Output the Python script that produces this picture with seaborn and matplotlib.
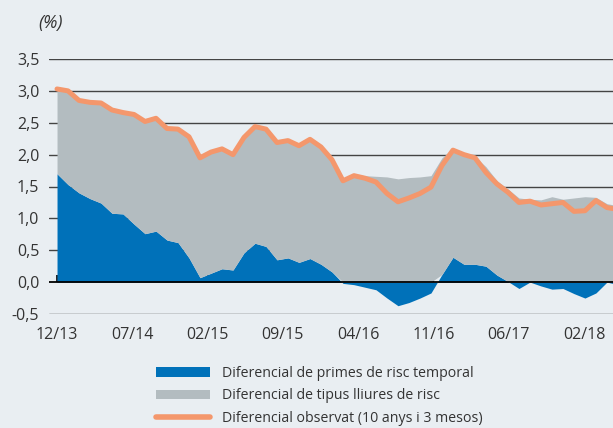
import numpy as np
import pandas as pd
import matplotlib
matplotlib.use('Agg')
import matplotlib.pyplot as plt
import seaborn as sns
from matplotlib.patches import Patch
from matplotlib.lines import Line2D

# ---------- dades (llegides del gràfic) ----------
tick_labels = ['12/13', '07/14', '02/15', '09/15', '04/16', '11/16', '06/17', '02/18']

# Diferencial de primes de risc temporal
blue = [1.70, 1.53, 1.40, 1.31, 1.24, 1.08, 1.07, 0.91, 0.76, 0.80,
        0.66, 0.62, 0.38, 0.07, 0.14, 0.21, 0.19, 0.46, 0.61, 0.56,
        0.35, 0.38, 0.31, 0.37, 0.28, 0.16, -0.02, -0.04, -0.08, -0.12,
        -0.25, -0.37, -0.32, -0.25, -0.17, 0.12, 0.39, 0.28, 0.28, 0.25,
        0.11, 0.01, -0.10, 0.00, -0.06, -0.11, -0.10, -0.18, -0.25, -0.17,
        0.00, -0.04]

# Diferencial de tipus lliures de risc
grey = [1.33, 1.47, 1.45, 1.51, 1.57, 1.62, 1.59, 1.72, 1.76, 1.77,
        1.75, 1.78, 1.90, 1.88, 1.90, 1.88, 1.81, 1.81, 1.83, 1.84,
        1.84, 1.84, 1.83, 1.87, 1.84, 1.81, 1.62, 1.69, 1.67, 1.66,
        1.65, 1.62, 1.64, 1.65, 1.67, 1.83, 1.71, 1.74, 1.69, 1.56,
        1.48, 1.45, 1.32, 1.30, 1.29, 1.34, 1.30, 1.32, 1.34, 1.33,
        1.23, 1.20]

# Diferencial observat (10 anys i 3 mesos)
observat = [3.03, 3.00, 2.85, 2.82, 2.81, 2.70, 2.66, 2.63, 2.52, 2.57,
            2.41, 2.40, 2.28, 1.95, 2.04, 2.09, 2.00, 2.27, 2.44, 2.40,
            2.19, 2.22, 2.14, 2.24, 2.12, 1.92, 1.59, 1.67, 1.63, 1.57,
            1.39, 1.26, 1.32, 1.39, 1.49, 1.83, 2.07, 2.00, 1.95, 1.72,
            1.54, 1.41, 1.25, 1.27, 1.21, 1.23, 1.25, 1.11, 1.12, 1.28,
            1.17, 1.14]

df = pd.DataFrame({'blue': blue, 'grey': grey, 'observat': observat})
df['t'] = np.arange(len(df))
df['base'] = df['blue'].clip(lower=0)

c_blue = '#0071B9'
c_grey = '#B3BCC0'
c_orange = '#F4976C'
c_bg = '#E9EEF2'
c_txt = '#333333'

sns.set_theme(style='white')
plt.rcParams['font.family'] = ['Open Sans', 'DejaVu Sans']

fig = plt.figure(figsize=(6.13, 4.28), dpi=100, facecolor=c_bg)
ax = fig.add_axes([49 / 613, 1 - 314 / 428, (613 - 49) / 613, (314 - 59) / 428])
ax.set_facecolor(c_bg)

# graella
for v in np.arange(-0.5, 3.51, 0.5):
    if abs(v) > 1e-9:
        ax.axhline(v, color='#444444', lw=1.0, zorder=0)

# àrees apilades
ax.fill_between(df['t'], 0, df['blue'], color=c_blue, lw=0, zorder=2)
ax.fill_between(df['t'], df['base'], df['base'] + df['grey'], color=c_grey, lw=0, zorder=2)

# línia observada
sns.lineplot(data=df, x='t', y='observat', ax=ax, color=c_orange, lw=3.6,
             zorder=4, legend=False)

ax.axhline(0, color='black', lw=1.3, zorder=5)

ax.set_xlim(-0.73, 50.55)
ax.set_ylim(-0.5, 3.5)
ax.set_xlabel('')
ax.set_ylabel('')

for s in ax.spines.values():
    s.set_visible(False)

ax.set_xticks(np.arange(len(tick_labels)) * 6.845)
ax.set_xticklabels(tick_labels)
ax.tick_params(axis='x', direction='in', length=5, width=1.2, color='black',
               pad=32, labelsize=11.5, labelcolor=c_txt, bottom=True)
ax.spines['bottom'].set_position(('data', 0))

yt = np.arange(-0.5, 3.51, 0.5)
ax.set_yticks(yt)
ax.set_yticklabels([f'{v:.1f}'.replace('.', ',') for v in yt])
ax.tick_params(axis='y', length=0, pad=7, labelsize=11.5, labelcolor=c_txt)

fig.text(38 / 613, 1 - 23 / 428, '(%)', fontsize=13, style='italic',
         color=c_txt, va='center', ha='left')

handles = [Patch(facecolor=c_blue, edgecolor='none'),
           Patch(facecolor=c_grey, edgecolor='none'),
           Line2D([0], [0], color=c_orange, lw=4, solid_capstyle='round')]
labels = ['Diferencial de primes de risc temporal',
          'Diferencial de tipus lliures de risc',
          'Diferencial observat (10 anys i 3 mesos)']
fig.legend(handles, labels, loc='upper left', bbox_to_anchor=(149 / 613, 1 - 359 / 428),
           frameon=False, fontsize=10.2, handlelength=3.8, handleheight=0.7,
           handletextpad=0.85, labelspacing=0.52, borderpad=0, labelcolor=c_txt)

fig.savefig('out.png', dpi=100, facecolor=c_bg)
